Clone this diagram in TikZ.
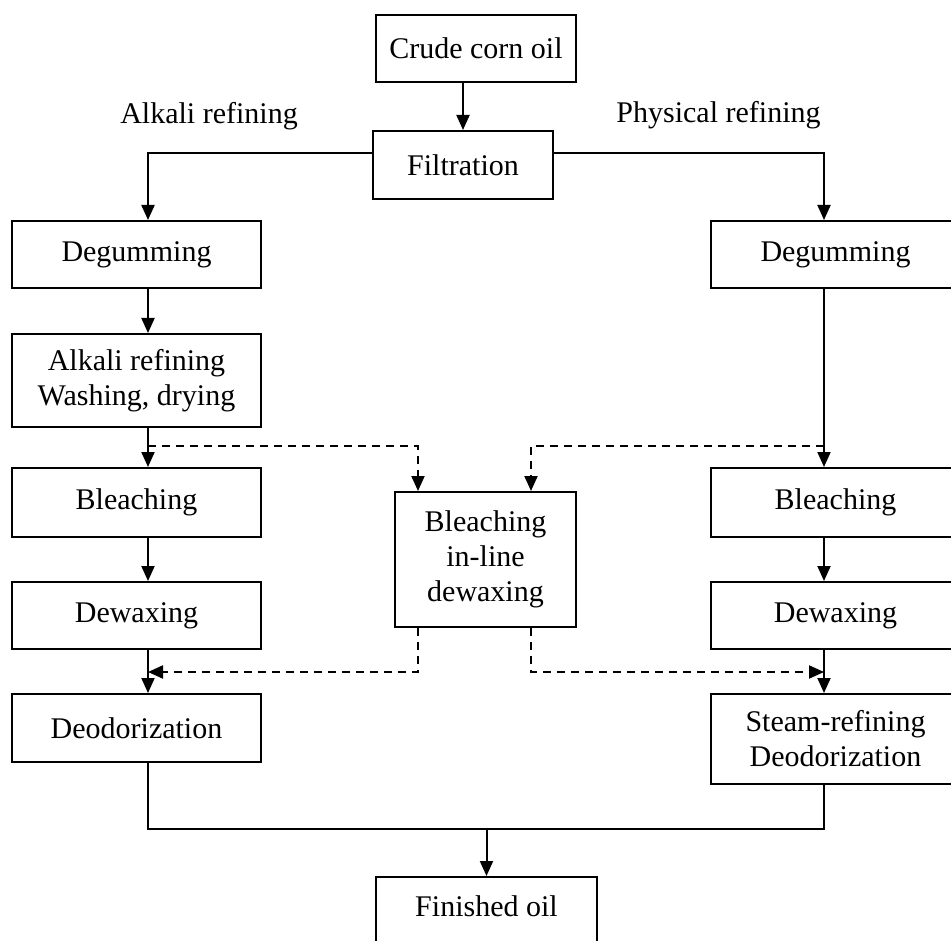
\documentclass[tikz,border=0pt]{standalone}
\usepackage{fontspec}
\setmainfont{Liberation Serif}
\usetikzlibrary{arrows.meta,positioning}

\begin{document}
\begin{tikzpicture}[
  x=1pt, y=-1pt,
  every node/.style={font=\fontsize{30}{35}\selectfont},
  box/.style={draw,line width=2pt,inner sep=0pt,align=center,
    minimum width=249pt,minimum height=67pt},
  flow/.style={-{Triangle[length=15pt,width=13pt]},line width=2pt},
  link/.style={line width=2pt},
  optional/.style={flow,dash pattern=on 8pt off 6pt}
]
  \clip (0,0) rectangle (951,941);

  % top of the chart
  \node[box,minimum width=200pt] (crude) at (476,48.5) {Crude corn oil};
  \node[box,minimum width=180pt,minimum height=68pt] (filt) at (463,165) {Filtration};
  \node (alkali) at (209,116) {Alkali refining};
  \node (physical) at (718.5,115) {Physical refining};

  % alkali route
  \node[box] (degL) at (136.5,254.5) {Degumming};
  \node[box,minimum height=93pt] (alk) at (136.5,380.5) {Alkali refining\\Washing, drying};
  \node[box,minimum height=69pt] (bleL) at (136.5,502.5) {Bleaching};
  \node[box] (dewL) at (136.5,615.5) {Dewaxing};
  \node[box,minimum height=68pt] (deoL) at (136.5,728) {Deodorization};

  % physical route
  \node[box] (degR) at (835.5,254.5) {Degumming};
  \node[box,minimum height=69pt] (bleR) at (835.5,502.5) {Bleaching};
  \node[box] (dewR) at (835.5,615.5) {Dewaxing};
  \node[box,minimum height=90pt] (steam) at (835.5,739) {Steam-refining\\Deodorization};

  \node[box,minimum width=181pt,minimum height=135pt] (cen) at (485.5,559.5)
    {Bleaching\\in-line\\dewaxing};
  \node[box,minimum width=221pt,anchor=north,text height=29pt,text depth=60pt,
    inner ysep=10pt] (fin) at (486.5,876) {Finished oil};

  \coordinate (colL) at (148,0);
  \coordinate (colR) at (824,0);
  \coordinate (inL) at (418,0);
  \coordinate (inR) at (531,0);
  \coordinate (tapL) at (148,446);
  \coordinate (tapR) at (824,446);
  \coordinate (joinL) at (148,672);
  \coordinate (joinR) at (824,672);
  \coordinate (merge) at (486.5,829);

  \draw[flow] (crude.south -| filt.north) -- (filt.north);
  \draw[flow] ([yshift=12pt]filt.west) -| (degL.north -| colL);
  \draw[flow] ([yshift=12pt]filt.east) -| (degR.north -| colR);

  \draw[flow] (degL.south -| colL) -- (alk.north -| colL);
  \draw[flow] (alk.south -| colL) -- (bleL.north -| colL);
  \draw[flow] (bleL.south -| colL) -- (dewL.north -| colL);
  \draw[flow] (dewL.south -| colL) -- (deoL.north -| colL);

  \draw[flow] (degR.south -| colR) -- (bleR.north -| colR);
  \draw[flow] (bleR.south -| colR) -- (dewR.north -| colR);
  \draw[flow] (dewR.south -| colR) -- (steam.north -| colR);

  % dashed by-pass through the in-line step
  \draw[optional] (tapL) -| (cen.north -| inL);
  \draw[optional] (tapR) -| (cen.north -| inR);
  \draw[optional] (cen.south -| inL) |- (joinL);
  \draw[optional] (cen.south -| inR) |- (joinR);

  \draw[link] (deoL.south -| colL) |- (merge) -| (steam.south -| colR);
  \draw[flow] (merge) -- (fin.north);
\end{tikzpicture}
\end{document}
